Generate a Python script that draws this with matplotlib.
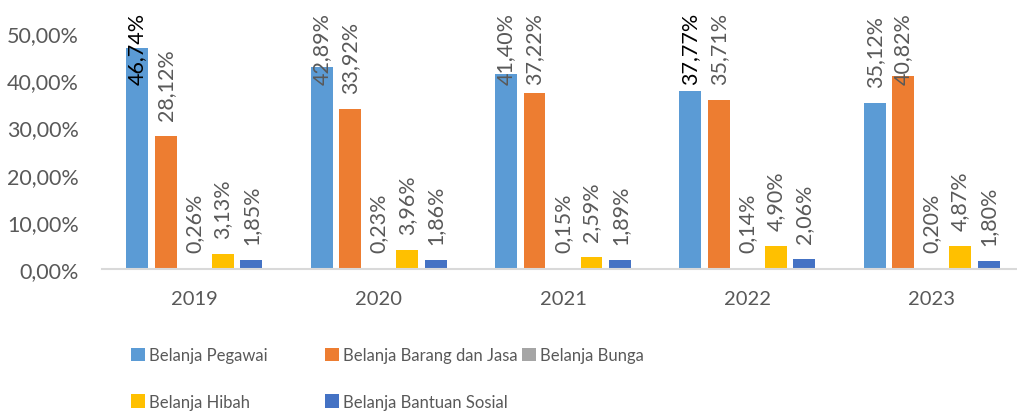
import matplotlib.pyplot as plt
import numpy as np
from matplotlib.patches import Patch

plt.rcParams['font.family'] = ['Lato', 'DejaVu Sans']

years = ['2019', '2020', '2021', '2022', '2023']
series_names = ['Belanja Pegawai', 'Belanja Barang dan Jasa', 'Belanja Bunga',
                'Belanja Hibah', 'Belanja Bantuan Sosial']
pegawai = [46.74, 42.89, 41.40, 37.77, 35.12]
barang_jasa = [28.12, 33.92, 37.22, 35.71, 40.82]
bunga = [0.26, 0.23, 0.15, 0.14, 0.20]
hibah = [3.13, 3.96, 2.59, 4.90, 4.87]
bansos = [1.85, 1.86, 1.89, 2.06, 1.80]
colors = ['#5B9BD5', '#ED7D31', '#A5A5A5', '#FFC000', '#4472C4']

all_series = [pegawai, barang_jasa, bunga, hibah, bansos]
# a couple of labels were formatted in black in the source workbook
black_labels = {(0, 0), (0, 3)}

txt_color = '#595959'

fig = plt.figure(figsize=(10.17, 4.14), dpi=100)
ax = fig.add_axes([102 / 1017, 144 / 414, 922 / 1017, 236 / 414])

x = np.arange(len(years))
pitch = 0.1545
width = 0.119

labels = []
for i, vals in enumerate(all_series):
    pos = x + (i - 2) * pitch
    ax.bar(pos, vals, width, color=colors[i], label=series_names[i])
    for j, v in enumerate(vals):
        c = 'black' if (i, j) in black_labels else txt_color
        t = ax.annotate(f'{v:.2f}%'.replace('.', ','), (pos[j], v),
                        xytext=(0, 11.5), textcoords='offset points',
                        rotation=90, ha='center', va='bottom',
                        fontsize=15.5, color=c, annotation_clip=False)
        labels.append(t)

ax.set_xlim(-0.5, 4.5)
ax.set_ylim(0, 50)
ax.set_yticks(np.arange(0, 51, 10))
ax.set_yticklabels([f'{v:.2f}%'.replace('.', ',') for v in np.arange(0, 51, 10)])
ax.set_xticks(x)
ax.set_xticklabels(years)
ax.tick_params(axis='both', length=0, labelcolor=txt_color)
ax.tick_params(axis='y', pad=16.5, labelsize=15.5)
ax.tick_params(axis='x', pad=15, labelsize=14.5)
for s in ['top', 'right', 'left']:
    ax.spines[s].set_visible(False)
ax.spines['bottom'].set_color('#D9D9D9')
ax.spines['bottom'].set_linewidth(1.5)

# keep the rotated labels inside the chart area (top edge 13 px from the figure top)
fig.canvas.draw()
renderer = fig.canvas.get_renderer()
top_limit = fig.bbox.height - 13
for t in labels:
    bb = t.get_window_extent(renderer)
    if bb.y1 > top_limit:
        shift = (bb.y1 - top_limit) * 72 / fig.dpi
        ox, oy = t.xyann
        t.xyann = (ox, oy - shift)

# legend laid out as three equal-width columns
cols = [[0, 3], [1, 4], [2]]
col_x = [131, 325, 522]
for cx, idx in zip(col_x, cols):
    handles = [Patch(facecolor=colors[k]) for k in idx]
    fig.legend(handles, [series_names[k] for k in idx],
               loc='upper left', bbox_to_anchor=(cx / 1017, 1 - 348 / 414),
               frameon=False, fontsize=12, labelcolor=txt_color,
               handlelength=0.85, handleheight=0.85, handletextpad=0.25,
               labelspacing=1.85, borderpad=0, borderaxespad=0)

fig.savefig('out.png', dpi=100)
